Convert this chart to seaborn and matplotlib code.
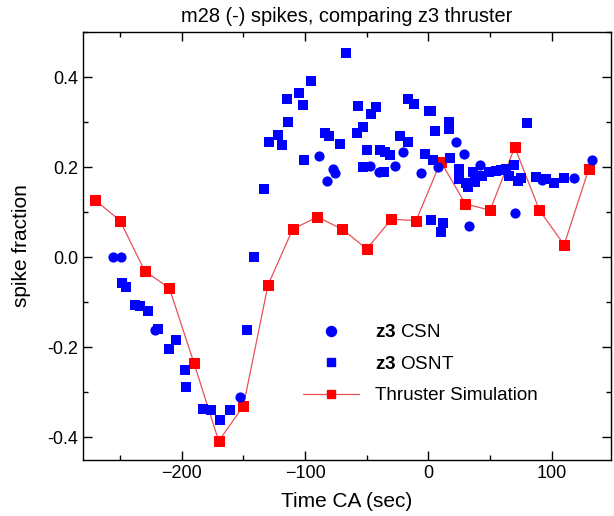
import matplotlib
matplotlib.use("Agg")
import matplotlib.pyplot as plt
from matplotlib.ticker import MultipleLocator, FormatStrFormatter
from matplotlib.lines import Line2D
import seaborn as sns
import pandas as pd

# ---- data ----
csn_x = [-256, -249, -222, -153, -89, -77, -76, -82, -47, -40, -27, -21, -6,
         8, 22, 29, 42, 33, 70, 92, 118, 133]
csn_y = [0.0, 0.0, -0.163, -0.31, 0.224, 0.195, 0.186, 0.170, 0.203, 0.19, 0.202, 0.233, 0.187,
         0.201, 0.256, 0.228, 0.204, 0.069, 0.097, 0.171, 0.175, 0.216]

osnt_x = [-248, -245, -238, -234, -227, -219, -210, -205, -197, -196.5, -182.5, -176, -169, -160.6,
          -147, -141, -133, -129, -122, -119, -113.5, -114.4, -105, -101.6, -95, -101, -84, -80.5,
          -71.4, -66.5, -57.3, -57.6, -53.2, -46.8, -42.4, -49.7, -53, -39.5, -34.9, -30.8, -35.7,
          -23.3, -16.8, -16.5, -12, -2.4, 0.3, 2.2, 17, 17, 5, 3.5, 17.6, 25, 36.5, 25, 30.6, 32,
          38, 43.5, 49.5, 55, 59, 63, 69, 65.7, 73, 75, 80.3, 87.3, 95.4, 102, 109.5, 2.2, 11.7, 10.3]
osnt_y = [-0.057, -0.066, -0.106, -0.109, -0.119, -0.160, -0.205, -0.184, -0.250, -0.289, -0.338,
          -0.340, -0.363, -0.340, -0.163, 0.0, 0.151, 0.255, 0.272, 0.248, 0.301, 0.351, 0.364, 0.338,
          0.391, 0.215, 0.275, 0.268, 0.252, 0.453, 0.336, 0.275, 0.288, 0.317, 0.333, 0.237, 0.2,
          0.237, 0.233, 0.227, 0.19, 0.270, 0.255, 0.351, 0.341, 0.229, 0.325, 0.325, 0.299, 0.284,
          0.280, 0.216, 0.221, 0.196, 0.19, 0.173, 0.164, 0.156, 0.167, 0.18, 0.19, 0.192, 0.193,
          0.195, 0.204, 0.18, 0.17, 0.175, 0.297, 0.177, 0.173, 0.164, 0.175, 0.082, 0.075, 0.056]

sim_x = [-270, -250, -230, -210, -190, -170, -150, -130, -110, -90, -70, -50, -30, -10,
         10, 30, 50, 70, 90, 110, 130]
sim_y = [0.126, 0.081, -0.031, -0.069, -0.236, -0.409, -0.331, -0.062, 0.062, 0.089, 0.062,
         0.018, 0.084, 0.081, 0.212, 0.118, 0.104, 0.244, 0.104, 0.027, 0.196]

labels = [r"$\mathbf{z3}$ CSN", r"$\mathbf{z3}$ OSNT", "Thruster Simulation"]

csn = pd.DataFrame({"t": csn_x, "f": csn_y})
osnt = pd.DataFrame({"t": osnt_x, "f": osnt_y})
sim = pd.DataFrame({"t": sim_x, "f": sim_y})

sns.set_theme(style="ticks")
plt.rcParams["font.family"] = ["Liberation Sans", "DejaVu Sans"]
plt.rcParams["mathtext.fontset"] = "custom"
plt.rcParams["mathtext.rm"] = "Liberation Sans"
plt.rcParams["mathtext.bf"] = "Liberation Sans:bold"
for k in ["text.color", "axes.labelcolor", "xtick.color", "ytick.color", "axes.edgecolor"]:
    plt.rcParams[k] = "black"

BLUE = "#0000ff"
RED = "#ff0000"
LINE_RED = "#e8505a"

fig = plt.figure(figsize=(6.14, 5.16), dpi=100)
ax = fig.add_axes([83 / 614, (516 - 460) / 516, 528 / 614, 428 / 516])

sns.lineplot(data=sim, x="t", y="f", ax=ax, color=LINE_RED, lw=0.9, marker="s",
             markersize=6.8, markerfacecolor=RED, markeredgecolor=RED,
             zorder=2, sort=False, legend=False)
sns.scatterplot(data=osnt, x="t", y="f", ax=ax, marker="s", s=44, color=BLUE,
                edgecolor=BLUE, linewidth=0, zorder=3, legend=False)
sns.scatterplot(data=csn, x="t", y="f", ax=ax, marker="o", s=54, color=BLUE,
                edgecolor=BLUE, linewidth=0, zorder=3, legend=False)

ax.set_xlim(-280, 148)
ax.set_ylim(-0.451, 0.5)
ax.xaxis.set_major_locator(MultipleLocator(100))
ax.xaxis.set_minor_locator(MultipleLocator(50))
ax.yaxis.set_major_locator(MultipleLocator(0.2))
ax.yaxis.set_minor_locator(MultipleLocator(0.1))
ax.yaxis.set_major_formatter(FormatStrFormatter("%.1f"))
ax.tick_params(which="both", direction="in", top=True, right=True, color="black",
               labelcolor="black", labelsize=13, width=1.0)
ax.tick_params(which="major", length=6.5)
ax.tick_params(which="minor", length=3.6)
for s in ax.spines.values():
    s.set_color("black")
    s.set_linewidth(1.0)

ax.set_xlabel("Time CA (sec)", fontsize=15, labelpad=7)
ax.set_ylabel("spike fraction", fontsize=15)
ax.yaxis.set_label_coords(-0.0985, 0.5)
ax.set_title("m28 (-) spikes, comparing z3 thruster", fontsize=14.4, pad=7)

handles = [
    Line2D([], [], ls="", marker="o", ms=7.2, color=BLUE),
    Line2D([], [], ls="", marker="s", ms=5.5, color=BLUE),
    Line2D([], [], ls="-", lw=0.9, color=LINE_RED, marker="s", ms=5.8,
           markerfacecolor=RED, markeredgecolor=RED),
]
ax.legend(handles, labels, loc="upper left", bbox_to_anchor=(0.417, 0.318),
          frameon=False, fontsize=13.6, handlelength=2.96, handletextpad=0.85,
          labelspacing=0.76, borderpad=0, borderaxespad=0)

fig.savefig("out.png", dpi=100)
